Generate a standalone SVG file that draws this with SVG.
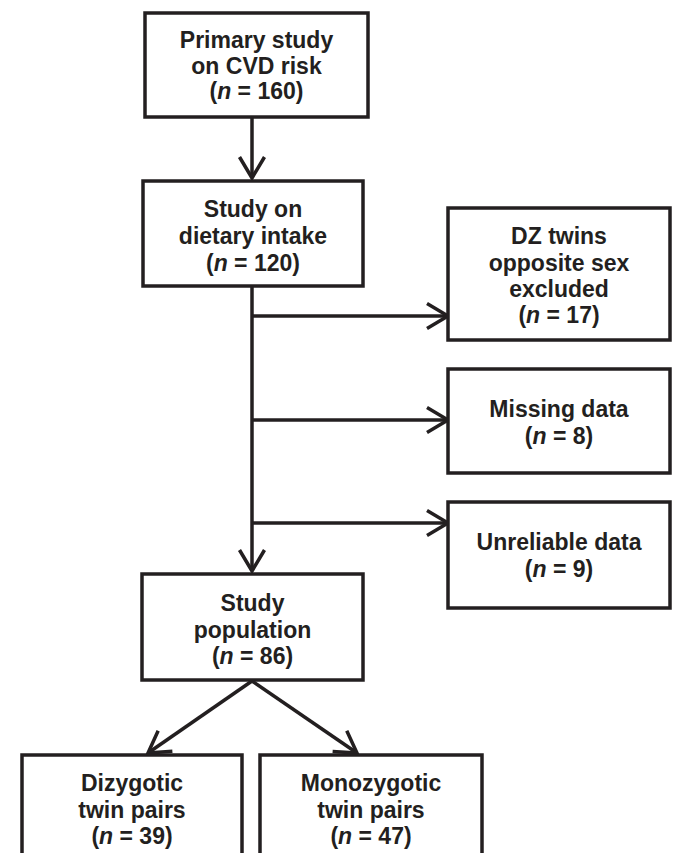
<svg xmlns="http://www.w3.org/2000/svg" width="673" height="853" viewBox="0 0 673 853">
<style>
.box{fill:#fff;stroke:#231f20;stroke-width:3.5}
.t{font-family:"Liberation Sans",Arial,sans-serif;font-weight:bold;font-size:23px;fill:#231f20;text-anchor:middle}
.c{fill:none;stroke:#231f20;stroke-width:3.5}
</style>
<defs>
<marker id="ah" markerUnits="userSpaceOnUse" markerWidth="30" markerHeight="30" viewBox="-25 -15 30 30" refX="0" refY="0" orient="auto">
<path d="M-21,-12.5 L0,0 L-21,12.5" fill="none" stroke="#231f20" stroke-width="3.5"/>
</marker>
</defs>
<rect width="673" height="853" fill="#fff"/>
<g id="connectors">
<path class="c" d="M252,117 V178" marker-end="url(#ah)"/>
<path class="c" d="M252,286 V571" marker-end="url(#ah)"/>
<path class="c" d="M252,316 H448" marker-end="url(#ah)"/>
<path class="c" d="M252,420 H448" marker-end="url(#ah)"/>
<path class="c" d="M252,523 H448" marker-end="url(#ah)"/>
<path class="c" d="M252,681 L148,753" marker-end="url(#ah)"/>
<path class="c" d="M252,681 L357,753" marker-end="url(#ah)"/>
</g>
<g id="primary">
<rect class="box" x="145" y="13" width="223" height="104"/>
<text class="t" x="256.5" y="48">Primary study</text>
<text class="t" x="256.5" y="74">on CVD risk</text>
<text class="t" x="256.5" y="99">(<tspan font-style="italic">n</tspan> = 160)</text>
</g>
<g id="dietary">
<rect class="box" x="143" y="181" width="220" height="105"/>
<text class="t" x="253" y="216.5">Study on</text>
<text class="t" x="253" y="243.5">dietary intake</text>
<text class="t" x="253" y="270.5">(<tspan font-style="italic">n</tspan> = 120)</text>
</g>
<g id="dz">
<rect class="box" x="448" y="208" width="222" height="132"/>
<text class="t" x="559" y="244">DZ twins</text>
<text class="t" x="559" y="270.5">opposite sex</text>
<text class="t" x="559" y="296.5">excluded</text>
<text class="t" x="559" y="322.5">(<tspan font-style="italic">n</tspan> = 17)</text>
</g>
<g id="missing">
<rect class="box" x="448" y="369" width="222" height="104"/>
<text class="t" x="559" y="416.5">Missing data</text>
<text class="t" x="559" y="443.5">(<tspan font-style="italic">n</tspan> = 8)</text>
</g>
<g id="unreliable">
<rect class="box" x="448" y="502" width="222" height="106"/>
<text class="t" x="559" y="549.5">Unreliable data</text>
<text class="t" x="559" y="576.5">(<tspan font-style="italic">n</tspan> = 9)</text>
</g>
<g id="population">
<rect class="box" x="142" y="574" width="221" height="106"/>
<text class="t" x="252.5" y="610.5">Study</text>
<text class="t" x="252.5" y="637.5">population</text>
<text class="t" x="252.5" y="663.5">(<tspan font-style="italic">n</tspan> = 86)</text>
</g>
<g id="dizygotic">
<rect class="box" x="22" y="755" width="220" height="110"/>
<text class="t" x="132" y="790.5">Dizygotic</text>
<text class="t" x="132" y="817.5">twin pairs</text>
<text class="t" x="132" y="843.5">(<tspan font-style="italic">n</tspan> = 39)</text>
</g>
<g id="monozygotic">
<rect class="box" x="260" y="755" width="222" height="110"/>
<text class="t" x="371" y="790.5">Monozygotic</text>
<text class="t" x="371" y="817.5">twin pairs</text>
<text class="t" x="371" y="843.5">(<tspan font-style="italic">n</tspan> = 47)</text>
</g>
</svg>
